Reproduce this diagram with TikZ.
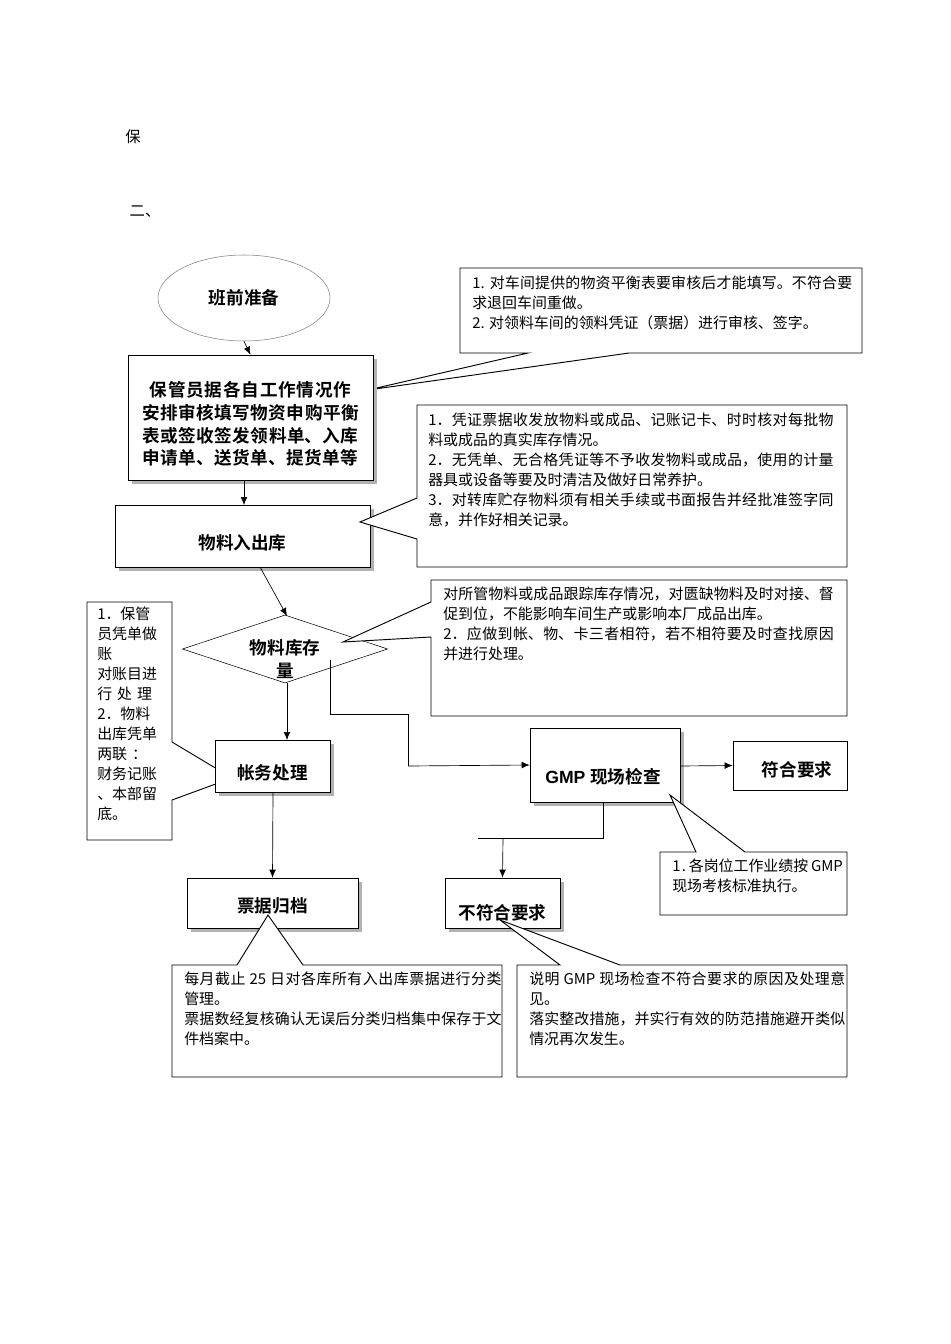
\documentclass[tikz,border=0pt]{standalone}
\usepackage{fontspec}
\setmainfont{Liberation Serif}
\newfontfamily\cjk{Noto Sans CJK SC}
\newfontfamily\cjkb{Noto Sans CJK SC Bold}
\XeTeXlinebreaklocale "zh"
\XeTeXlinebreakskip=0pt plus 1pt
\usetikzlibrary{shapes.geometric,arrows.meta}
\begin{document}
\begin{tikzpicture}[x=0.75pt,y=-0.75pt,
  box/.style={draw,fill=white,line width=0.5pt,inner sep=0pt},
  shad/.style={fill=gray!60,draw=none},
  btxt/.style={font=\cjkb\fontsize{13.2}{17}\selectfont,align=center},
  ctxt/.style={font=\cjk\fontsize{11.2}{15}\selectfont,align=justify,anchor=north west,inner sep=0pt},
  co/.style={draw,fill=white,line width=0.7pt},
  arr/.style={-{Latex[length=6pt,width=5pt]},line width=0.5pt}]
\useasboundingbox (0,0) rectangle (950,1344);
\node[font=\cjk\fontsize{11.5}{13}\selectfont] at (133,137) {保};
\node[font=\cjk\fontsize{11.5}{13}\selectfont] at (145,212) {二、};
% ellipse
\node (e) [ellipse,draw=gray,minimum width=129pt,minimum height=64.5pt,btxt,inner sep=0pt] at (244,298) {班前准备};
% callout 1
\draw[co] (460,268)--(862,268)--(862,353)--(629,353)--(368,390)--(528,353)--(460,353)--cycle;
\node[ctxt,text width=285pt] at (472,276) {1. 对车间提供的物资平衡表要审核后才能填写。不符合要求退回车间重做。\\2. 对领料车间的领料凭证（票据）进行审核、签字。};
% box 1
\fill[shad] (132,359) rectangle (377,484);
\node (b1) [box,minimum width=183.75pt,minimum height=93.75pt] at (250.5,417.5) {};
\node[btxt,text width=182pt] at (250.5,424) {保管员据各自工作情况作安排审核填写物资申购平衡表或签收签发领料单、入库申请单、送货单、提货单等};
\draw[arr] (e.south) -- (b1.north);
% box 2
\fill[shad] (119,509) rectangle (374,571);
\node (b2) [box,minimum width=191.25pt,minimum height=46.5pt] at (242.5,536) {};
\node[btxt] at (242.5,543) {物料入出库};
\draw[arr] (244,480) -- (244,505);
% callout 2
\draw[co] (417,405)--(847,405)--(847,567)--(417,567)--(417,539)--(360,522)--(417,498)--cycle;
\node[ctxt,text width=304pt] at (428,413) {1．凭证票据收发放物料或成品、记账记卡、时时核对每批物料或成品的真实库存情况。\\2．无凭单、无合格凭证等不予收发物料或成品，使用的计量器具或设备等要及时清洁及做好日常养护。\\3．对转库贮存物料须有相关手续或书面报告并经批准签字同意，并作好相关记录。};
% diamond
\node (d) [diamond,draw,fill=white,minimum width=154pt,minimum height=51pt,aspect=3,inner sep=0pt] at (285,649) {};
\node[btxt] at (285,659) {物料库存\\量};
\draw[arr] (260,567) -- (287,616);
% callout 3
\draw[co] (431,580)--(847,580)--(847,716)--(431,716)--(431,637)--(343,642)--(431,602)--cycle;
\node[ctxt,text width=293pt] at (443,587) {对所管物料或成品跟踪库存情况，对匮缺物料及时对接、督促到位，不能影响车间生产或影响本厂成品出库。\\2．应做到帐、物、卡三者相符，若不相符要及时查找原因并进行处理。};
% left callout
\draw[co] (87,602)--(172,602)--(172,742)--(232,778)--(172,800)--(172,840)--(87,840)--cycle;
\node[ctxt,text width=56pt,align=left] at (97,607) {1．保管\\员凭单做\\账\\对账目进\\行 处 理\\2．物料\\出库凭单\\两联 ：\\财务记账\\、本部留\\底。};
% 帐务处理
\fill[shad] (219,744) rectangle (334,796);
\node (b3) [box,minimum width=86.25pt,minimum height=39pt] at (272.5,766) {};
\node[btxt] at (272.5,773) {帐务处理};
\draw[arr] (287,683) -- (287,740);
% GMP
\fill[shad] (534,732) rectangle (684,806);
\node (g) [box,minimum width=112.5pt,minimum height=55.5pt] at (605,765) {};
\node[btxt] at (603,777) {\fontspec{Liberation Sans Bold}GMP \cjkb 现场检查};
\draw[line width=0.5pt] (330,660) -- (330,714) -- (408,714) -- (408,766);
\draw[arr] (408,766) -- (g.west);
\node (f) [box,minimum width=85.5pt,minimum height=36.75pt] at (790,765.5) {};
\node[btxt] at (797,770) {符合要求};
\draw[arr] (g.east |- 0,766) -- (f.west);
% not ok
\draw[line width=0.5pt] (603,802) -- (603,838) -- (478,838);
\fill[shad] (449,882) rectangle (564,932);
\node (n) [box,minimum width=86.25pt,minimum height=37.5pt] at (502.5,903) {};
\node[btxt] at (502.5,913) {不符合要求};
\draw[arr] (503,838) -- (n.north);
% GMP callout
\draw[co] (660,852)--(696,852)--(670,795)--(745,852)--(847,852)--(847,915)--(660,915)--cycle;
\node[ctxt,text width=128pt] at (672,859) {1\kern1pt.\ 各岗位工作业绩按 GMP 现场考核标准执行。};
% 票据归档
\fill[shad] (191,882) rectangle (362,932);
\node (p) [box,minimum width=128.25pt,minimum height=37.5pt] at (272.5,903) {};
\node[btxt] at (272.5,906) {票据归档};
\draw[arr] (273,792) -- (p.north);
% bottom callouts
\draw[co] (172,965)--(237,965)--(268,915)--(303,965)--(502,965)--(502,1077)--(172,1077)--cycle;
\node[ctxt,text width=238pt] at (184,972) {每月截止 25 日对各库所有入出库票据进行分类管理。\\票据数经复核确认无误后分类归档集中保存于文件档案中。};
\draw[co] (517,965)--(560,965)--(500,920)--(620,965)--(847,965)--(847,1077)--(517,1077)--cycle;
\node[ctxt,text width=237pt] at (529,972) {说明 GMP 现场检查不符合要求的原因及处理意见。\\落实整改措施，并实行有效的防范措施避开类似情况再次发生。};
\end{tikzpicture}
\end{document}
